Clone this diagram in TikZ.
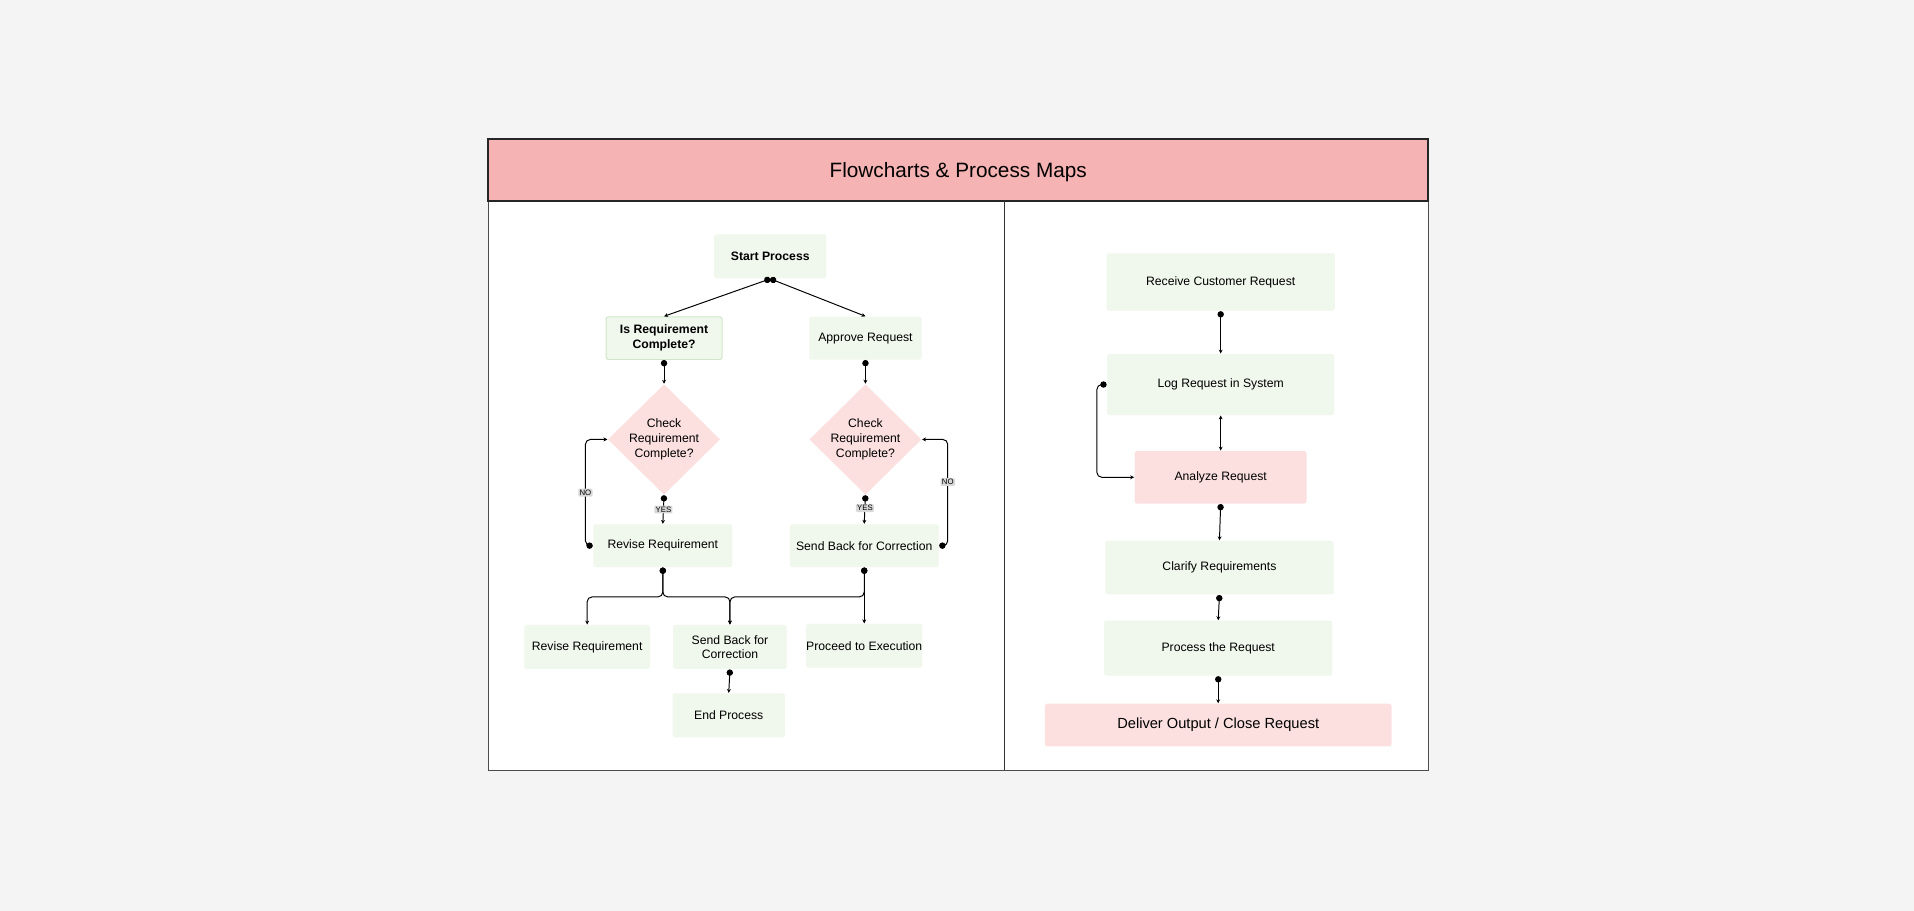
\documentclass[tikz,border=0pt]{standalone}
\usepackage{fontspec}
\setmainfont{Liberation Sans}
\usetikzlibrary{arrows.meta,shapes.geometric}
\definecolor{bg}{HTML}{F4F4F4}
\definecolor{gfill}{HTML}{F0F7EC}
\definecolor{gline}{HTML}{CFE6C8}
\definecolor{pfill}{HTML}{FCE0E0}
\definecolor{title}{HTML}{F6B3B3}
\definecolor{lab}{HTML}{D8D8D8}
\tikzset{
 gbox/.style={fill=gfill,rounded corners=1pt,align=center,font=\fontsize{5}{6}\selectfont,inner sep=0pt},
 pbox/.style={gbox,fill=pfill},
 dia/.style={diamond,fill=pfill,align=center,font=\fontsize{5}{6}\selectfont,inner sep=0pt,minimum width=46pt,minimum height=33pt},
 con/.style={line width=0.4pt,{Circle[length=2.6pt]}-{Stealth[length=1.6pt,width=1.6pt]}},
 yn/.style={fill=lab,font=\fontsize{3.2}{3.5}\selectfont,inner sep=0.5pt,rounded corners=0.5pt}
}
\begin{document}
\begin{tikzpicture}[x=0.5pt,y=-0.5pt]
\fill[bg] (0,0) rectangle (1568,746);
\useasboundingbox (0,0) rectangle (1568,746);
\draw[fill=white,draw=black!70,line width=0.5pt] (400,114) rectangle (1170,631);
\draw[fill=title,draw=black!85,line width=0.8pt] (400,114) rectangle (1170,165);
\node[font=\fontsize{8.5}{10}\selectfont] (t) at (785,141) {Flowcharts \& Process Maps};
\draw[black!80,line width=0.5pt] (823,165) -- (823,631);
% left
\node[gbox,minimum width=46pt,minimum height=18pt,font=\fontsize{5}{6}\selectfont\bfseries] (s) at (631,210) {Start Process};
\node[gbox,draw=gline,minimum width=47.5pt,minimum height=17.5pt,font=\fontsize{5}{6}\selectfont\bfseries] (ir) at (544,277) {Is Requirement\\Complete?};
\node[gbox,minimum width=46pt,minimum height=17.5pt] (ap) at (709,277) {Approve Request};
\node[dia] (d1) at (544,360) {Check\\Requirement\\Complete?};
\node[dia] (d2) at (709,360) {Check\\Requirement\\Complete?};
\node[gbox,minimum width=57pt,minimum height=17.5pt] (rv) at (543,447) {Revise Requirement};
\node[gbox,minimum width=61pt,minimum height=17.5pt] (sb) at (708,447) {Send Back for Correction};
\node[gbox,minimum width=51.5pt,minimum height=18pt] (rv2) at (481,530) {Revise Requirement};
\node[gbox,minimum width=46.5pt,minimum height=18pt] (sb2) at (598,530) {Send Back for\\Correction};
\node[gbox,minimum width=45.5pt,minimum height=18pt] (pe) at (708,529) {Proceed to Execution};
\node[gbox,minimum width=46pt,minimum height=18pt] (ep) at (597,586) {End Process};
\draw[con] (s.south) -- (ir.north);
\draw[con] (s.south) -- (ap.north);
\draw[con] (ir.south) -- (d1.north);
\draw[con] (ap.south) -- (d2.north);
\draw[con] (d1.south) -- node[yn]{YES} (rv.north);
\draw[con] (d2.south) -- node[yn,pos=0.45]{YES} (sb.north);
\draw[con,rounded corners=2pt] (rv.west) -- ++(-6,0) |- node[yn,pos=0.25]{NO} (d1.west);
\draw[con,rounded corners=2pt] (sb.east) -- ++(7,0) |- node[yn,pos=0.3]{NO} (d2.east);
\coordinate (hy) at (0,489);
\draw[con,rounded corners=2pt] (rv.south) |- (hy-|rv2.north) -- (rv2.north);
\draw[con,rounded corners=2pt] (rv.south) |- (hy-|sb2.north) -- (sb2.north);
\draw[con,rounded corners=2pt] (sb.south) |- (hy-|sb2.north) -- (sb2.north);
\draw[con] (sb.south) -- (pe.north);
\draw[con] (sb2.south) -- (ep.north);
% right
\node[gbox,minimum width=93.5pt,minimum height=23.5pt] (r1) at (1000,231) {Receive Customer Request};
\node[gbox,minimum width=93pt,minimum height=25pt] (r2) at (1000,315) {Log Request in System};
\node[pbox,minimum width=70.5pt,minimum height=21.5pt] (r3) at (1000,391) {Analyze Request};
\node[gbox,minimum width=93.5pt,minimum height=22pt] (r4) at (999,465) {Clarify Requirements};
\node[gbox,minimum width=93.5pt,minimum height=22.5pt] (r5) at (998,531) {Process the Request};
\node[pbox,minimum width=142pt,minimum height=17.5pt,font=\fontsize{6}{7}\selectfont] (r6) at (998,594) {Deliver Output / Close Request};
\draw[con] (r1.south) -- (r2.north);
\draw[line width=0.4pt,{Stealth[length=1.6pt,width=1.6pt]}-{Stealth[length=1.6pt,width=1.6pt]}] (r2.south) -- (r3.north);
\draw[con] (r3.south) -- (r4.north);
\draw[con] (r4.south) -- (r5.north);
\draw[con] (r5.south) -- (r6.north);
\draw[con,rounded corners=2pt] (r2.west) -- ++(-8,0) |- (r3.west);
\end{tikzpicture}
\end{document}
